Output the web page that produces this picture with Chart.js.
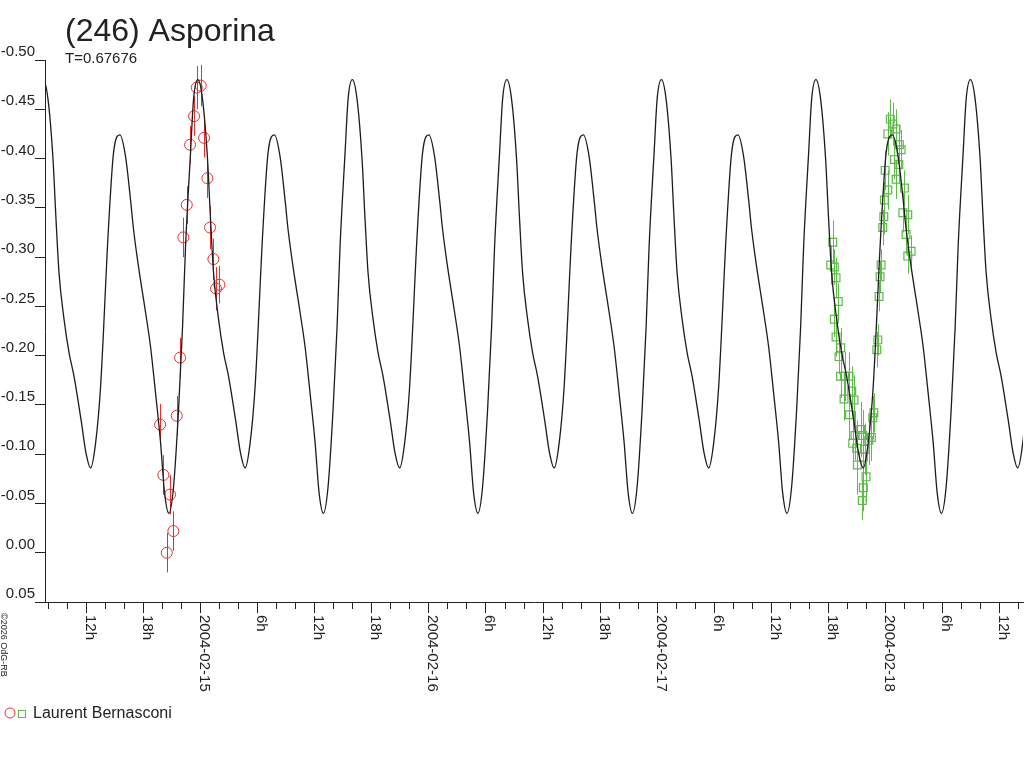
<!DOCTYPE html>
<html>
<head>
<meta charset="utf-8">
<script src="https://cdn.jsdelivr.net/npm/chart.js@4.4.1/dist/chart.umd.min.js"></script>
<style>
html,body{margin:0;padding:0;background:#fff;}
#wrap{position:relative;width:1024px;height:768px;}
canvas{display:block;}
</style>
</head>
<body>
<div id="wrap"><canvas id="c" width="1024" height="768"></canvas></div>
<script>
// ---- data (time in hours after 2004-02-14 00:00 UT, reduced magnitude) ----
const titleText = "(246) Asporina";
const periodText = "T=0.67676";
const observer = "Laurent Bernasconi";
const periodDays = 0.67676;
const minEpochHours = 28.73; // time of a secondary minimum of the model curve

// model curve profile over one period (hours after minimum, magnitude)
const profileHours = [0, 0.526, 1.051, 1.892, 2.417, 3.080, 3.679, 4.204, 4.520, 5.045, 5.781, 6.306, 6.832, 7.358, 7.778, 8.230, 8.724, 9.250, 9.670, 9.985, 10.511, 10.826, 11.278, 11.772, 12.298, 12.613, 12.928, 13.454, 13.979, 14.505, 15.241, 15.766];
const profileMag   = [-0.086, -0.111, -0.168, -0.331, -0.406, -0.424, -0.402, -0.358, -0.328, -0.290, -0.244, -0.209, -0.162, -0.112, -0.061, -0.040, -0.067, -0.145, -0.229, -0.311, -0.406, -0.460, -0.480, -0.460, -0.399, -0.338, -0.284, -0.237, -0.203, -0.179, -0.135, -0.101];

// first night (red circles)
const redTime = [19.80, 20.14, 20.85, 20.50, 21.19, 21.55, 21.90, 22.24, 22.60, 22.95, 23.37, 23.65, 24.07, 24.42, 24.77, 25.05, 25.40, 25.68, 26.03];
const redMag  = [-0.130, -0.079, -0.059, 0.000, -0.022, -0.139, -0.198, -0.320, -0.353, -0.414, -0.443, -0.472, -0.474, -0.421, -0.380, -0.330, -0.298, -0.268, -0.272];
const redErr  = [0.021, 0.020, 0.020, 0.020, 0.020, 0.020, 0.020, 0.020, 0.019, 0.019, 0.020, 0.022, 0.021, 0.020, 0.020, 0.022, 0.021, 0.022, 0.019];

// second night (green squares)
const greenTime = [90.50, 90.29, 90.67, 90.85, 91.09, 90.67, 90.85, 91.34, 91.16, 91.32, 91.74, 92.21, 92.50, 91.69, 92.74, 92.26, 94.82, 94.71, 93.44, 93.65, 92.84, 94.56, 92.60, 94.29, 93.02, 93.89, 93.09, 93.72, 94.00, 93.72, 93.61, 95.13, 95.24, 95.37, 95.48, 95.58, 95.76, 95.87, 95.93, 96.29, 96.01, 96.29, 96.82, 97.16, 97.51, 96.99, 97.69, 97.16, 98.04, 97.87, 98.39, 98.21, 98.74, 98.39, 96.55, 97.45];
const greenMag  = [-0.315, -0.292, -0.290, -0.279, -0.255, -0.237, -0.219, -0.208, -0.199, -0.179, -0.179, -0.179, -0.164, -0.156, -0.155, -0.140, -0.142, -0.137, -0.125, -0.119, -0.119, -0.117, -0.111, -0.114, -0.106, -0.105, -0.089, -0.097, -0.077, -0.066, -0.053, -0.206, -0.216, -0.260, -0.280, -0.292, -0.330, -0.341, -0.358, -0.368, -0.388, -0.425, -0.435, -0.430, -0.414, -0.399, -0.409, -0.379, -0.370, -0.345, -0.343, -0.323, -0.306, -0.301, -0.440, -0.394];
const greenErr  = [0.022, 0.020, 0.018, 0.020, 0.018, 0.018, 0.020, 0.020, 0.018, 0.022, 0.025, 0.024, 0.025, 0.022, 0.025, 0.026, 0.020, 0.022, 0.028, 0.026, 0.025, 0.024, 0.026, 0.025, 0.028, 0.026, 0.030, 0.028, 0.026, 0.024, 0.020, 0.018, 0.016, 0.015, 0.016, 0.016, 0.018, 0.018, 0.018, 0.020, 0.020, 0.022, 0.022, 0.020, 0.020, 0.020, 0.020, 0.020, 0.018, 0.020, 0.020, 0.020, 0.016, 0.018, 0.020, 0.020];

// axes
const xMin = 7.7, xMax = 110.5, xStep = 2;
const yMin = -0.50, yMax = 0.05, yStep = 0.05;

// ---- styles ----
const RED = "rgb(235,45,45)";
const GREEN = "rgb(95,185,75)";
const INK = "#222";
const FONT = '"Liberation Sans", Arial, Helvetica, sans-serif';

// ---- build datasets ----
const periodHours = periodDays * 24;
const curve = [];
for (let k = -2; k <= 6; k++) {
  for (let i = 0; i < profileHours.length; i++) {
    const t = minEpochHours + k * periodHours + profileHours[i];
    if (t > xMin - 6 && t < xMax + 6) curve.push({x: t, y: profileMag[i]});
  }
}
const redPts = redTime.map((t, i) => ({x: t, y: redMag[i]}));
const greenPts = greenTime.map((t, i) => ({x: t, y: greenMag[i]}));

function fmtX(v) {
  const h = ((v % 24) + 24) % 24;
  if (h === 0) {
    const d = 14 + v / 24;
    return "2004-02-" + String(d).padStart(2, "0");
  }
  return h + "h";
}

const errorBars = {
  id: "errorBars",
  beforeDatasetsDraw(chart) {
    const {ctx, chartArea: a, scales: {x, y}} = chart;
    ctx.save();
    ctx.beginPath();
    ctx.rect(a.left, a.top, a.right - a.left, a.bottom - a.top);
    ctx.clip();
    ctx.lineWidth = 1;
    const draw = (ts, ms, es, col) => {
      ctx.strokeStyle = col;
      ctx.beginPath();
      for (let i = 0; i < ts.length; i++) {
        const px = Math.round(x.getPixelForValue(ts[i])) + 0.5;
        ctx.moveTo(px, y.getPixelForValue(ms[i] - es[i]));
        ctx.lineTo(px, y.getPixelForValue(ms[i] + es[i]));
      }
      ctx.stroke();
    };
    draw(greenTime, greenMag, greenErr, GREEN);
    draw(redTime, redMag, redErr, RED);
    ctx.restore();
  }
};

const decorations = {
  id: "decorations",
  afterDraw(chart) {
    const {ctx, scales: {x}} = chart;
    const axisY = chart.chartArea.bottom;
    ctx.save();
    ctx.fillStyle = INK;
    ctx.strokeStyle = INK;
    ctx.textAlign = "left";
    ctx.textBaseline = "alphabetic";
    // title
    ctx.font = "32px " + FONT;
    ctx.fillText(titleText, 65, 41);
    ctx.font = "15px " + FONT;
    ctx.fillText(periodText, 65, 63);
    // x ticks and rotated labels
    ctx.lineWidth = 1;
    ctx.font = "15px " + FONT;
    x.ticks.forEach(t => {
      const v = t.value;
      const px = Math.round(x.getPixelForValue(v)) + 0.5;
      const major = (v % 6) === 0;
      ctx.beginPath();
      ctx.moveTo(px, axisY);
      ctx.lineTo(px, axisY + (major ? 11 : 7));
      ctx.stroke();
      if (major) {
        ctx.save();
        ctx.translate(px - 0.5, axisY + 13);
        ctx.rotate(Math.PI / 2);
        ctx.fillText(fmtX(v), 0, 0);
        ctx.restore();
      }
    });
    // copyright
    ctx.save();
    ctx.font = "9px " + FONT;
    ctx.translate(1, 613);
    ctx.rotate(Math.PI / 2);
    ctx.fillText("\u00A92026 OdG-RB", 0, 0);
    ctx.restore();
    // legend
    ctx.strokeStyle = RED;
    ctx.beginPath();
    ctx.arc(10, 713, 5, 0, Math.PI * 2);
    ctx.stroke();
    ctx.strokeStyle = GREEN;
    ctx.strokeRect(18.5, 710.5, 7, 7);
    ctx.fillStyle = INK;
    ctx.font = "16px " + FONT;
    ctx.fillText(observer, 33, 718);
    ctx.restore();
  }
};

new Chart(document.getElementById("c"), {
  type: "scatter",
  data: {
    datasets: [
      {type: "line", data: curve, borderColor: "#1c1c1c", borderWidth: 1.3, pointRadius: 0,
       cubicInterpolationMode: "monotone", fill: false, order: 0},
      {data: redPts, pointStyle: "circle", pointRadius: 5.5, borderColor: RED,
       backgroundColor: "rgba(0,0,0,0)", borderWidth: 1, order: 1},
      {data: greenPts, pointStyle: "rect", pointRadius: 5.5, borderColor: GREEN,
       backgroundColor: "rgba(0,0,0,0)", borderWidth: 1.2, order: 2}
    ]
  },
  options: {
    responsive: false,
    animation: false,
    events: [],
    layout: {autoPadding: false, padding: {top: 60, right: 1, left: 0, bottom: 0}},
    plugins: {legend: {display: false}, tooltip: {enabled: false}, title: {display: false}},
    scales: {
      x: {
        type: "linear", min: xMin, max: xMax,
        ticks: {display: false},
        grid: {display: false},
        border: {color: INK, width: 1},
        afterBuildTicks(s) {
          const ticks = [];
          for (let v = Math.ceil(xMin / xStep) * xStep; v <= xMax; v += xStep) ticks.push({value: v});
          s.ticks = ticks;
        },
        afterFit(s) { s.height = 166; }
      },
      y: {
        type: "linear", reverse: true, min: yMin, max: yMax,
        ticks: {
          stepSize: yStep, padding: 0, labelOffset: -8, color: INK,
          font: {family: FONT, size: 15},
          autoSkip: false,
          callback(v) { return Math.abs(v) < 1e-9 ? "0.00" : Number(v).toFixed(2); }
        },
        grid: {drawOnChartArea: false, drawTicks: true, tickLength: 10, color: INK},
        border: {color: INK, width: 1},
        afterFit(s) { s.width = 45; }
      }
    }
  },
  plugins: [errorBars, decorations]
});
</script>
</body>
</html>
